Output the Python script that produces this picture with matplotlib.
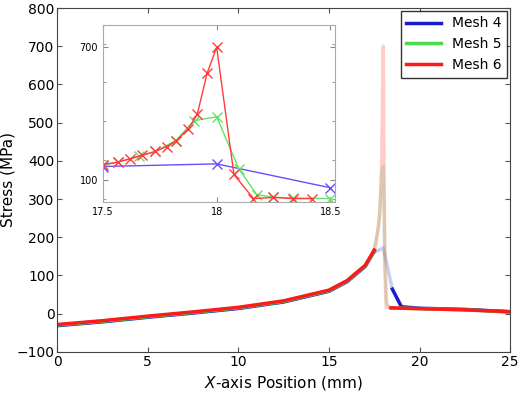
import numpy as np
import matplotlib
matplotlib.use("Agg")
import matplotlib.pyplot as plt

# main curves (mm, MPa)
x_pre = [0, 2.5, 5, 7.5, 10, 12.5, 15, 16, 17, 17.5]
y_pre = [-30, -20, -8, 3, 15, 32, 60, 85, 125, 165]

# zoom region data 17.5-18.5
m4_x = [17.5, 18.0, 18.5]
m4_y = [160, 172, 64]
m5_x = [17.5, 17.565, 17.66, 17.73, 17.82, 17.9, 18.0, 18.098, 18.177, 18.25, 18.335, 18.5]
m5_y = [165, 180, 207, 228, 277, 367, 385, 149, 32, 22, 17, 15]
m6_x = [17.5, 17.565, 17.62, 17.67, 17.73, 17.78, 17.82, 17.875, 17.915, 17.958, 18.0,
        18.076, 18.162, 18.25, 18.335, 18.42]
m6_y = [169, 180, 195, 210, 228, 250, 274, 330, 397, 581, 700, 124, 15, 20, 15, 15]

# tails after 18.5
m4_tx = [18.5, 19.0, 20, 22.5, 25]
m4_ty = [64, 18, 14, 11, 5]
m5_tx = [18.5, 20, 22.5, 25]
m5_ty = [15, 13, 10, 4]
m6_tx = [18.42, 20, 22.5, 25]
m6_ty = [15, 13, 10, 5]

main_cols = ["#1a1ad0", "#4cd94c", "#ff1a1a"]
inset_cols = ["#6a4cff", "#66e066", "#ff3b3b"]
names = ["Mesh 4", "Mesh 5", "Mesh 6"]

fig = plt.figure(figsize=(5.2, 4.03), dpi=100)
ax = fig.add_axes([0.11, 0.127, 0.871, 0.853])
zx = [m4_x, m5_x, m6_x]
zy = [m4_y, m5_y, m6_y]
tx = [m4_tx, m5_tx, m6_tx]
ty = [m4_ty, m5_ty, m6_ty]
for i in range(3):
    off = (i - 1) * 1.5
    ax.plot(zx[i], zy[i], color=main_cols[i], lw=2.5, alpha=0.22)
    ax.plot(x_pre, np.array(y_pre) + off, color=main_cols[i], lw=2.5, label=names[i])
    ax.plot(tx[i], ty[i], color=main_cols[i], lw=2.5)
ax.set_xlim(0, 25)
ax.set_ylim(-100, 800)
ax.set_yticks(range(-100, 801, 100))
ax.set_xticks(range(0, 26, 5))
ax.set_xlabel("$X$-axis Position (mm)", fontsize=11)
ax.set_ylabel("Stress (MPa)", fontsize=11, labelpad=1)
ax.tick_params(direction="in", labelsize=10, top=True, right=True, color="#555555", pad=2)
for s in ax.spines.values():
    s.set_color("#444444")
leg = ax.legend(loc="upper right", fontsize=10, fancybox=False, edgecolor="black",
                borderaxespad=0.2, handlelength=2.5)

ins = fig.add_axes([0.198, 0.499, 0.446, 0.439])
for i in range(3):
    ins.plot(zx[i], zy[i], color=inset_cols[i], lw=1, marker="x", ms=7, mew=1)
ins.set_xlim(17.5, 18.52)
ins.set_ylim(0, 800)
ins.set_xticks([17.5, 18, 18.5])
ins.set_xticklabels(["17.5", "18", "18.5"])
ins.set_yticks([100, 700])
ins.set_yticks(np.arange(15, 800, 175), minor=True)
ins.tick_params(direction="in", labelsize=7, top=True, right=True, color="#888888")
ins.tick_params(which="minor", direction="in", right=True, color="#888888")
for s in ins.spines.values():
    s.set_color("#aaaaaa")

fig.savefig("out.png", dpi=100)
